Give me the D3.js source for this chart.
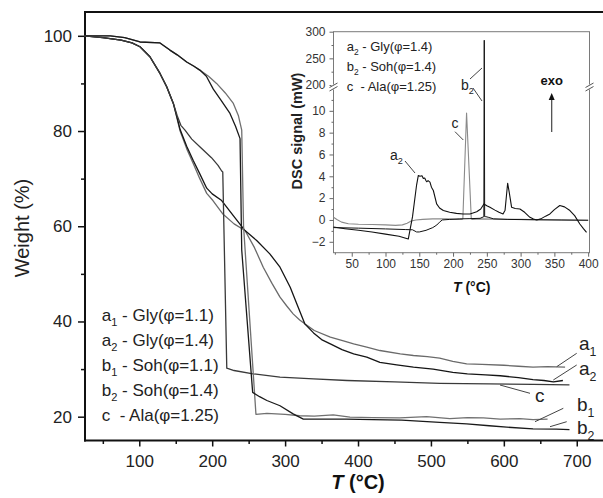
<!DOCTYPE html>
<html><head><meta charset="utf-8">
<script src="https://cdn.jsdelivr.net/npm/d3@7"></script>
<style>
body{margin:0;background:#fff;}
svg{display:block;font-family:"Liberation Sans",Arial,sans-serif;}
text{white-space:pre;}
</style></head><body>
<svg id="c" width="603" height="498"></svg>
<script>
// ---------- Main TGA data ----------
const a1T = [25,50,75,90,101,114.6,128.4,137.6,146.7,152,156,165,174,183,192.5,201,215,230,245,258,270,282,293,302,311,320,327,340,362,380,394,412,430,458,476,495,512,530,549,570,600,620,640,660,684];
const a1W = [100,99.6,99.1,98.5,97.7,95.6,92.1,89.3,85.8,82.5,80,76.3,73.2,70,66.9,65.4,62.5,60.5,59.1,55.5,51.4,48,45.1,43.3,41.6,40.3,39.5,38.1,36.7,35.9,35.3,34.6,33.9,33.2,32.85,32.6,32.3,31.6,31.1,31.0,30.8,30.6,30.4,30.5,30.4];
const a2T = [25,50,75,90,101,114.6,128.4,137.6,146.7,152,156,165,174,183,192.5,200,213,230,245,261,279,293,307,316,327,339,350,362,378,394,412,430,453,476,503,530,550,575,595,620,640,655,668,681];
const a2W = [100,99.6,99.1,98.5,97.7,95.6,92.1,89.3,85.8,82.7,80.3,76.8,73.8,71,68,66.8,65.4,62,59.1,57,54.2,51.4,47.2,43.7,39.5,37.6,36.2,35.3,34.1,33.2,32.5,31.4,30.9,30.4,30,29.3,29.0,28.8,28.6,28.2,27.8,27.6,27.3,27.6];
const cT  = [25,50,75,90,101,114.6,128.4,137.6,146.7,152,157,162.7,172,183,199,208,213,214.5,220,230,256,293,339,385,450,512,580,640,690];
const cW  = [100,99.6,99.1,98.5,97.7,95.6,92.1,89.3,85.8,83.2,81.2,80.2,78.3,76.7,74.4,72.8,71.6,71.4,30.2,29.7,29,28.3,27.95,27.6,27.3,27.0,26.9,26.8,26.7];
const b1T = [25,60,80,101,128.4,142,152,165,175,183,195,206,218,229,236,240.5,243,260,275,300,320,340,366,389,420,457,494,526,550,572,595,622,640,660];
const b1W = [100,100,99.6,98.7,98.5,97,96,94.5,93.6,92.8,91.5,90,88,85.8,83.2,80.2,60,20.5,20.7,20.5,20.2,20.1,20.4,19.9,19.8,19.75,20.0,19.6,19.8,19.75,19.5,19.6,19.4,19.5];
const b2T = [25,60,80,101,128.4,142,152,165,175,183,192,201.5,212,224.4,232,238.2,240.5,255.5,265,275,293,311,325,350,384,420,460,512,549,580,604,640,672,690];
const b2W = [100,100,99.6,98.7,98.5,97,96,94.5,93.6,92.8,91.5,88.8,86.5,83.7,81,78.4,55,25.1,24.2,23.4,22.3,20.6,19.5,19.5,19.5,19.4,19.3,18.8,18.5,18.1,17.8,17.45,17.4,17.3];

const xMajor = [100,200,300,400,500,600,700];
const xMinor = [50,150,250,350,450,550,650];
const yMajor = [20,40,60,80,100];
const yMinor = [30,50,70,90];

const legendKeys  = ['a','a','b','b','c'];
const legendSubs  = ['1','2','1','2',''];
const legendNames = [' - Gly(φ=1.1)',' - Gly(φ=1.4)',' - Soh(φ=1.1)',' - Soh(φ=1.4)','  - Ala(φ=1.25)'];

// ---------- Inset DSC data ----------
const ia2T = [23,40,60,80,100,120,133.7,140,146,148.6,151,154,156,158,160,161,163,165.8,168,170.8,175.7,180,185.6,195,205,215,225,235,241,245.7,250,254.6,262,268,274,277,279,280.8,283,286.7,292,299,306,313.8,319,323.7,330,337,343.4,350,358,365,373,380,387.7,393,397.6];
const ia2V = [-0.65,-0.8,-0.95,-1.1,-1.3,-1.5,-1.75,0.3,3.2,4.08,4.0,4.05,3.8,3.85,3.6,3.5,3.6,3.47,3.0,2.7,1.47,1.1,0.86,0.7,0.6,0.55,0.55,0.75,1.0,1.47,1.3,1.16,0.9,0.7,0.55,0.9,2.2,3.37,2.6,1.16,1.05,1.0,0.7,0.24,0.08,0.0,0.1,0.35,0.55,0.95,1.32,1.2,0.86,0.4,-0.37,-0.8,-1.14];
const ib2T = [23,60,100,130,140,146,150,160,170,176,180,184,195,210,225,240,245.6,246.2,246.8,248.5,252,260,280,320,360,400];
const ib2V = [-0.7,-0.75,-0.82,-0.88,-0.9,-1.1,-1.1,-0.95,-0.7,-0.46,-0.2,0,0.05,0.1,0.12,0.15,0.3,284,0.3,0.3,0.25,0.1,0.05,0.02,0,-0.02];
const icT  = [23,28,35,45,60,80,100,115,125,132,138,145,155,170,190,205,213,214.5,220,227,229,240,260,300,350,400];
const icV  = [0.25,0.05,-0.2,-0.35,-0.4,-0.42,-0.45,-0.5,-0.45,-0.3,-0.1,0,0.05,0.1,0.1,0.05,0.05,0.1,9.8,0.1,0.05,0.1,0.08,0.05,0,-0.05];

const ixMajor = [50,100,150,200,250,300,350,400];
const ixMinor = [25,75,125,175,225,275,325,375];
const iyMajor = [-2,0,2,4,6,8,10,200,250,300];
const iyMinor = [-1,1,3,5,7,9,11,225,275];

const iLegKeys  = ['a','b','c'];
const iLegSubs  = ['2','2',''];
const iLegNames = [' - Gly(φ=1.4)',' - Soh(φ=1.4)','  - Ala(φ=1.25)'];

// ---------- helpers ----------
const svg = d3.select('#c');
function rich(g, x, y, parts, size, attrs) {
  const t = g.append('text').attr('x', x).attr('y', y).attr('font-size', size).attr('fill', '#222');
  if (attrs) Object.entries(attrs).forEach(([k,v]) => t.attr(k, v));
  let shifted = 0;
  parts.forEach(([s, sub]) => {
    if (s === '') return;
    const ts = t.append('tspan').text(s);
    const target = sub ? size * 0.3 : 0;
    if (target !== shifted) { ts.attr('dy', target - shifted); shifted = target; }
    if (sub) ts.attr('font-size', size * 0.65);
  });
  return t;
}
function zip(T, V) { return T.map((t, i) => [t, V[i]]); }

// ---------- main plot ----------
const x = d3.scaleLinear().domain([25, 736]).range([84.6, 603]);
const y = d3.scaleLinear().domain([15, 105]).range([440.5, 12]);

const gx = svg.append('g').attr('transform', 'translate(0,440.5)');
gx.call(d3.axisBottom(x).tickValues(xMajor).tickSize(6).tickPadding(8).tickSizeOuter(0).tickFormat(d3.format('d')));
gx.append('g').call(d3.axisBottom(x).tickValues(xMinor).tickSize(3.5).tickSizeOuter(0).tickFormat(''));
const gy = svg.append('g').attr('transform', 'translate(85,0)');
gy.call(d3.axisLeft(y).tickValues(yMajor).tickSize(7).tickPadding(6).tickSizeOuter(0).tickFormat(d3.format('d')));
gy.append('g').call(d3.axisLeft(y).tickValues(yMinor).tickSize(4).tickSizeOuter(0).tickFormat(''));
svg.selectAll('.domain').remove();
svg.selectAll('.tick line').attr('stroke', '#111').attr('stroke-width', 1.5);
gx.selectAll('.tick text').attr('font-size', 17).attr('fill', '#222').attr('font-family', '"Liberation Sans",Arial,sans-serif');
gy.selectAll('.tick text').attr('font-size', 17).attr('fill', '#222').attr('font-family', '"Liberation Sans",Arial,sans-serif');

svg.append('line').attr('x1', 85).attr('x2', 85).attr('y1', 11).attr('y2', 441.5).attr('stroke', '#111').attr('stroke-width', 2);
svg.append('line').attr('x1', 84).attr('x2', 603).attr('y1', 440.5).attr('y2', 440.5).attr('stroke', '#111').attr('stroke-width', 2);
svg.append('line').attr('x1', 84).attr('x2', 603).attr('y1', 12).attr('y2', 12).attr('stroke', '#111').attr('stroke-width', 2);

const line = d3.line().x(d => x(d[0])).y(d => y(d[1])).curve(d3.curveMonotoneX);
const lineStraight = d3.line().x(d => x(d[0])).y(d => y(d[1]));
const mainSeries = [
  [a1T, a1W, '#6a6a6a'], [a2T, a2W, '#151515'], [cT, cW, '#3a3a3a'],
  [b1T, b1W, '#707070'], [b2T, b2W, '#1a1a1a']
];
mainSeries.forEach(([T, W, col]) => {
  svg.append('path').datum(zip(T, W)).attr('d', lineStraight)
    .attr('fill', 'none').attr('stroke', col).attr('stroke-width', 1.3).attr('stroke-linejoin', 'round');
});

// axis titles
svg.append('text').attr('transform', 'translate(29,228) rotate(-90)').attr('text-anchor', 'middle')
  .attr('font-size', 20).attr('fill', '#222').text('Weight (%)');
const xt = svg.append('text').attr('x', 358).attr('y', 489).attr('text-anchor', 'middle')
  .attr('font-size', 20).attr('font-weight', 'bold').attr('fill', '#111');
xt.append('tspan').attr('font-style', 'italic').text('T');
xt.append('tspan').text(' (°C)');

// legend
legendKeys.forEach((k, i) => {
  rich(svg, 101.7, 321 + i * 25, [[k, false], [legendSubs[i], true], [legendNames[i], false]], 17);
});

// curve labels
const lab = [
  ['a', '1', 579, 350, 556.7, 366.7, 576.7, 353.3],
  ['a', '2', 579, 375, 553.3, 380, 576.7, 365],
  ['c', '',  535, 401.5, 500, 385, 530, 393.3],
  ['b', '1', 577, 411, 535, 421.7, 563.3, 408.3],
  ['b', '2', 577, 434, 550, 426.7, 566.7, 421.7]
];
lab.forEach(([k, s, tx, ty, x1, y1, x2, y2]) => {
  rich(svg, tx, ty, [[k, false], [s, true]], 19);
  svg.append('line').attr('x1', x1).attr('y1', y1).attr('x2', x2).attr('y2', y2).attr('stroke', '#444').attr('stroke-width', 1);
});

// ---------- inset ----------
const xi = d3.scaleLinear().domain([23, 402]).range([333.5, 589.5]);
const yi = d3.scaleLinear().domain([-3, 12, 200, 300]).range([252.7, 89, 85, 31.7]);
const ig = svg.append('g');
ig.append('rect').attr('x', 333.5).attr('y', 31.7).attr('width', 256).attr('height', 221)
  .attr('fill', '#fff').attr('stroke', '#7a7a7a').attr('stroke-width', 1);

const ixa = ig.append('g').attr('transform', 'translate(0,252.7)');
ixa.call(d3.axisBottom(xi).tickValues(ixMajor).tickSize(4).tickPadding(3).tickSizeOuter(0).tickFormat(d3.format('d')));
ixa.append('g').call(d3.axisBottom(xi).tickValues(ixMinor).tickSize(2).tickSizeOuter(0).tickFormat(''));
const iya = ig.append('g').attr('transform', 'translate(333.5,0)');
iya.call(d3.axisLeft(yi).tickValues(iyMajor).tickSize(4).tickPadding(4).tickSizeOuter(0).tickFormat(d3.format('d')));
iya.append('g').call(d3.axisLeft(yi).tickValues(iyMinor).tickSize(2).tickSizeOuter(0).tickFormat(''));
ig.selectAll('.domain').remove();
ig.selectAll('.tick line').attr('stroke', '#666').attr('stroke-width', 1);
ig.selectAll('.tick text').attr('font-size', 12).attr('fill', '#333').attr('font-family', '"Liberation Sans",Arial,sans-serif');

const iline = d3.line().x(d => xi(d[0])).y(d => yi(d[1]));
[[icT, icV, '#8a8a8a', 1.1], [ib2T, ib2V, '#111', 1], [ia2T, ia2V, '#111', 1.1]].forEach(([T, V, col, w]) => {
  ig.append('path').datum(zip(T, V)).attr('d', iline)
    .attr('fill', 'none').attr('stroke', col).attr('stroke-width', w).attr('stroke-linejoin', 'round');
});

// axis breaks
[333.5, 589.5].forEach(bx => {
  ig.append('rect').attr('x', bx - 2).attr('y', 84.5).attr('width', 4).attr('height', 5).attr('fill', '#fff');
  ig.append('line').attr('x1', bx - 4).attr('y1', 87.5).attr('x2', bx + 4).attr('y2', 83).attr('stroke', '#555').attr('stroke-width', 1);
  ig.append('line').attr('x1', bx - 4).attr('y1', 91).attr('x2', bx + 4).attr('y2', 86.5).attr('stroke', '#555').attr('stroke-width', 1);
});

// inset legend
iLegKeys.forEach((k, i) => {
  rich(ig, 346.7, 51 + i * 20, [[k, false], [iLegSubs[i], true], [iLegNames[i], false]], 13);
});

// inset annotations
rich(ig, 390, 160, [['a', false], ['2', true]], 14);
ig.append('line').attr('x1', 405).attr('y1', 161).attr('x2', 415).attr('y2', 173).attr('stroke', '#444');
rich(ig, 451.5, 128, [['c', false]], 14);
ig.append('line').attr('x1', 455).attr('y1', 131.7).attr('x2', 463.3).attr('y2', 140).attr('stroke', '#444');
rich(ig, 461, 90, [['b', false], ['2', true]], 14);
ig.append('line').attr('x1', 470).attr('y1', 79).attr('x2', 482).attr('y2', 68).attr('stroke', '#444');
ig.append('line').attr('x1', 473).attr('y1', 88).attr('x2', 482).attr('y2', 101).attr('stroke', '#444');

ig.append('text').attr('x', 551.7).attr('y', 85).attr('text-anchor', 'middle').attr('font-size', 13)
  .attr('font-weight', 'bold').attr('fill', '#111').text('exo');
ig.append('line').attr('x1', 551.7).attr('x2', 551.7).attr('y1', 132).attr('y2', 99).attr('stroke', '#444').attr('stroke-width', 1.2);
ig.append('path').attr('d', `M551.7,93 L548.7,100 L554.7,100 Z`).attr('fill', '#111');

// inset axis titles
ig.append('text').attr('transform', 'translate(302,131) rotate(-90)').attr('text-anchor', 'middle')
  .attr('font-size', 14.5).attr('font-weight', 'bold').attr('fill', '#222').text('DSC signal (mW)');
const ixt = ig.append('text').attr('x', 471.7).attr('y', 292).attr('text-anchor', 'middle')
  .attr('font-size', 14).attr('font-weight', 'bold').attr('fill', '#111');
ixt.append('tspan').attr('font-style', 'italic').text('T');
ixt.append('tspan').text(' (°C)');
</script>
</body></html>
